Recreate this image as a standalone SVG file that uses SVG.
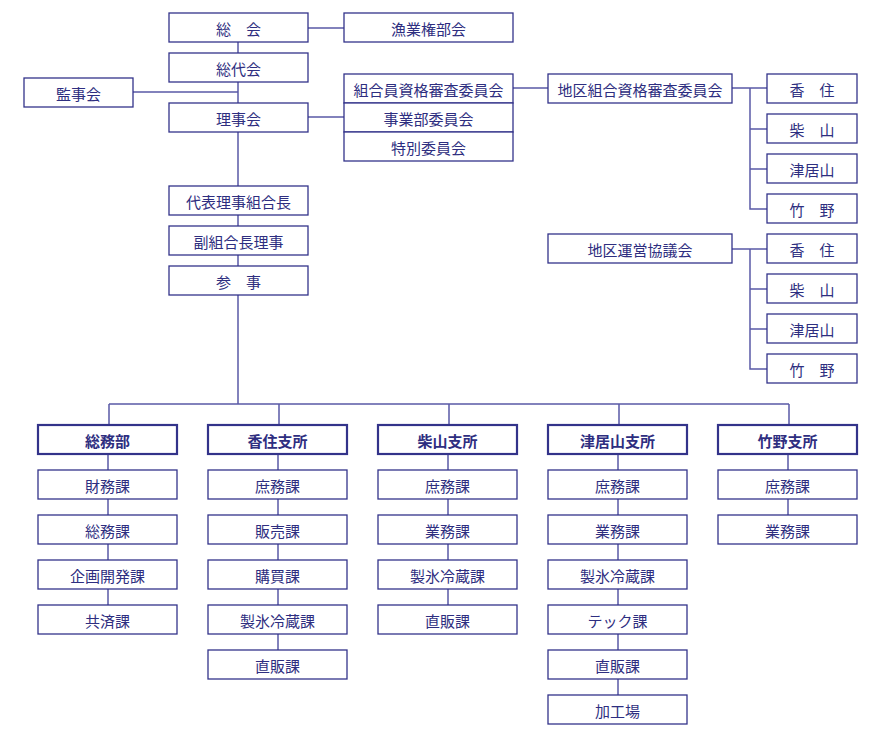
<svg xmlns="http://www.w3.org/2000/svg" width="881" height="744" viewBox="0 0 881 744">
<style>
rect{fill:#fff;stroke:#33338a;stroke-width:1.3}
rect.h{stroke-width:2.2}
text{font-family:"Noto Sans CJK JP","Noto Sans",sans-serif;font-size:15px;fill:#2e2e80;text-anchor:middle;dominant-baseline:central}
text.b{font-weight:bold}
#connectors path{fill:none;stroke:#5a5aa6;stroke-width:1.5}
</style>
<g id="connectors">
<path d="M308 28H344M238 42V53M133 92H238M238 82V103M308 117H344M238 132V186M238 215V226M238 255V266M238 295V404M513 88H548M732 88H767M750 88V209H767M750 129H767M750 169H767M732 249H767M750 249V369H767M750 289H767M750 329H767"/>
<path d="M109 404H789M109 404V425M279 404V425M449 404V425M619 404V425M789 404V425"/>
<path d="M108 454V605M278 454V650M448 454V605M618 454V695M788 454V515"/>
</g>
<g id="n1"><rect x="169" y="13" width="139" height="29"/><text x="238.5" y="28">総　会</text></g>
<g id="n2"><rect x="344" y="13" width="169" height="29"/><text x="428.5" y="28">漁業権部会</text></g>
<g id="n3"><rect x="169" y="53" width="139" height="29"/><text x="238.5" y="68">総代会</text></g>
<g id="n4"><rect x="24" y="78" width="109" height="29"/><text x="78.5" y="93">監事会</text></g>
<g id="n5"><rect x="169" y="103" width="139" height="29"/><text x="238.5" y="118">理事会</text></g>
<g id="n6"><rect x="344" y="74" width="169" height="29"/><text x="428.5" y="89">組合員資格審査委員会</text></g>
<g id="n7"><rect x="344" y="103" width="169" height="29"/><text x="428.5" y="118">事業部委員会</text></g>
<g id="n8"><rect x="344" y="132" width="169" height="29"/><text x="428.5" y="147">特別委員会</text></g>
<g id="n9"><rect x="548" y="74" width="184" height="29"/><text x="640" y="89">地区組合資格審査委員会</text></g>
<g id="n10"><rect x="548" y="234" width="184" height="29"/><text x="640" y="249">地区運営協議会</text></g>
<g id="r1"><rect x="767" y="74" width="90" height="29"/><text x="812" y="89">香　住</text></g>
<g id="r2"><rect x="767" y="114" width="90" height="29"/><text x="812" y="129">柴　山</text></g>
<g id="r3"><rect x="767" y="154" width="90" height="29"/><text x="812" y="169">津居山</text></g>
<g id="r4"><rect x="767" y="194" width="90" height="29"/><text x="812" y="209">竹　野</text></g>
<g id="r5"><rect x="767" y="234" width="90" height="29"/><text x="812" y="249">香　住</text></g>
<g id="r6"><rect x="767" y="274" width="90" height="29"/><text x="812" y="289">柴　山</text></g>
<g id="r7"><rect x="767" y="314" width="90" height="29"/><text x="812" y="329">津居山</text></g>
<g id="r8"><rect x="767" y="354" width="90" height="29"/><text x="812" y="369">竹　野</text></g>
<g id="n11"><rect x="169" y="186" width="139" height="29"/><text x="238.5" y="201">代表理事組合長</text></g>
<g id="n12"><rect x="169" y="226" width="139" height="29"/><text x="238.5" y="241">副組合長理事</text></g>
<g id="n13"><rect x="169" y="266" width="139" height="29"/><text x="238.5" y="281">参　事</text></g>
<g id="c1"><rect class="h" x="38" y="425" width="139" height="29"/><text class="b" x="107.5" y="440">総務部</text></g>
<g id="c2"><rect class="h" x="208" y="425" width="139" height="29"/><text class="b" x="277.5" y="440">香住支所</text></g>
<g id="c3"><rect class="h" x="378" y="425" width="139" height="29"/><text class="b" x="447.5" y="440">柴山支所</text></g>
<g id="c4"><rect class="h" x="548" y="425" width="139" height="29"/><text class="b" x="617.5" y="440">津居山支所</text></g>
<g id="c5"><rect class="h" x="718" y="425" width="139" height="29"/><text class="b" x="787.5" y="440">竹野支所</text></g>
<g id="c1a"><rect x="38" y="470" width="139" height="29"/><text x="107.5" y="485">財務課</text></g>
<g id="c1b"><rect x="38" y="515" width="139" height="29"/><text x="107.5" y="530">総務課</text></g>
<g id="c1c"><rect x="38" y="560" width="139" height="29"/><text x="107.5" y="575">企画開発課</text></g>
<g id="c1d"><rect x="38" y="605" width="139" height="29"/><text x="107.5" y="620">共済課</text></g>
<g id="c2a"><rect x="208" y="470" width="139" height="29"/><text x="277.5" y="485">庶務課</text></g>
<g id="c2b"><rect x="208" y="515" width="139" height="29"/><text x="277.5" y="530">販売課</text></g>
<g id="c2c"><rect x="208" y="560" width="139" height="29"/><text x="277.5" y="575">購買課</text></g>
<g id="c2d"><rect x="208" y="605" width="139" height="29"/><text x="277.5" y="620">製氷冷蔵課</text></g>
<g id="c2e"><rect x="208" y="650" width="139" height="29"/><text x="277.5" y="665">直販課</text></g>
<g id="c3a"><rect x="378" y="470" width="139" height="29"/><text x="447.5" y="485">庶務課</text></g>
<g id="c3b"><rect x="378" y="515" width="139" height="29"/><text x="447.5" y="530">業務課</text></g>
<g id="c3c"><rect x="378" y="560" width="139" height="29"/><text x="447.5" y="575">製氷冷蔵課</text></g>
<g id="c3d"><rect x="378" y="605" width="139" height="29"/><text x="447.5" y="620">直販課</text></g>
<g id="c4a"><rect x="548" y="470" width="139" height="29"/><text x="617.5" y="485">庶務課</text></g>
<g id="c4b"><rect x="548" y="515" width="139" height="29"/><text x="617.5" y="530">業務課</text></g>
<g id="c4c"><rect x="548" y="560" width="139" height="29"/><text x="617.5" y="575">製氷冷蔵課</text></g>
<g id="c4d"><rect x="548" y="605" width="139" height="29"/><text x="617.5" y="620">テック課</text></g>
<g id="c4e"><rect x="548" y="650" width="139" height="29"/><text x="617.5" y="665">直販課</text></g>
<g id="c4f"><rect x="548" y="695" width="139" height="29"/><text x="617.5" y="710">加工場</text></g>
<g id="c5a"><rect x="718" y="470" width="139" height="29"/><text x="787.5" y="485">庶務課</text></g>
<g id="c5b"><rect x="718" y="515" width="139" height="29"/><text x="787.5" y="530">業務課</text></g>
</svg>
